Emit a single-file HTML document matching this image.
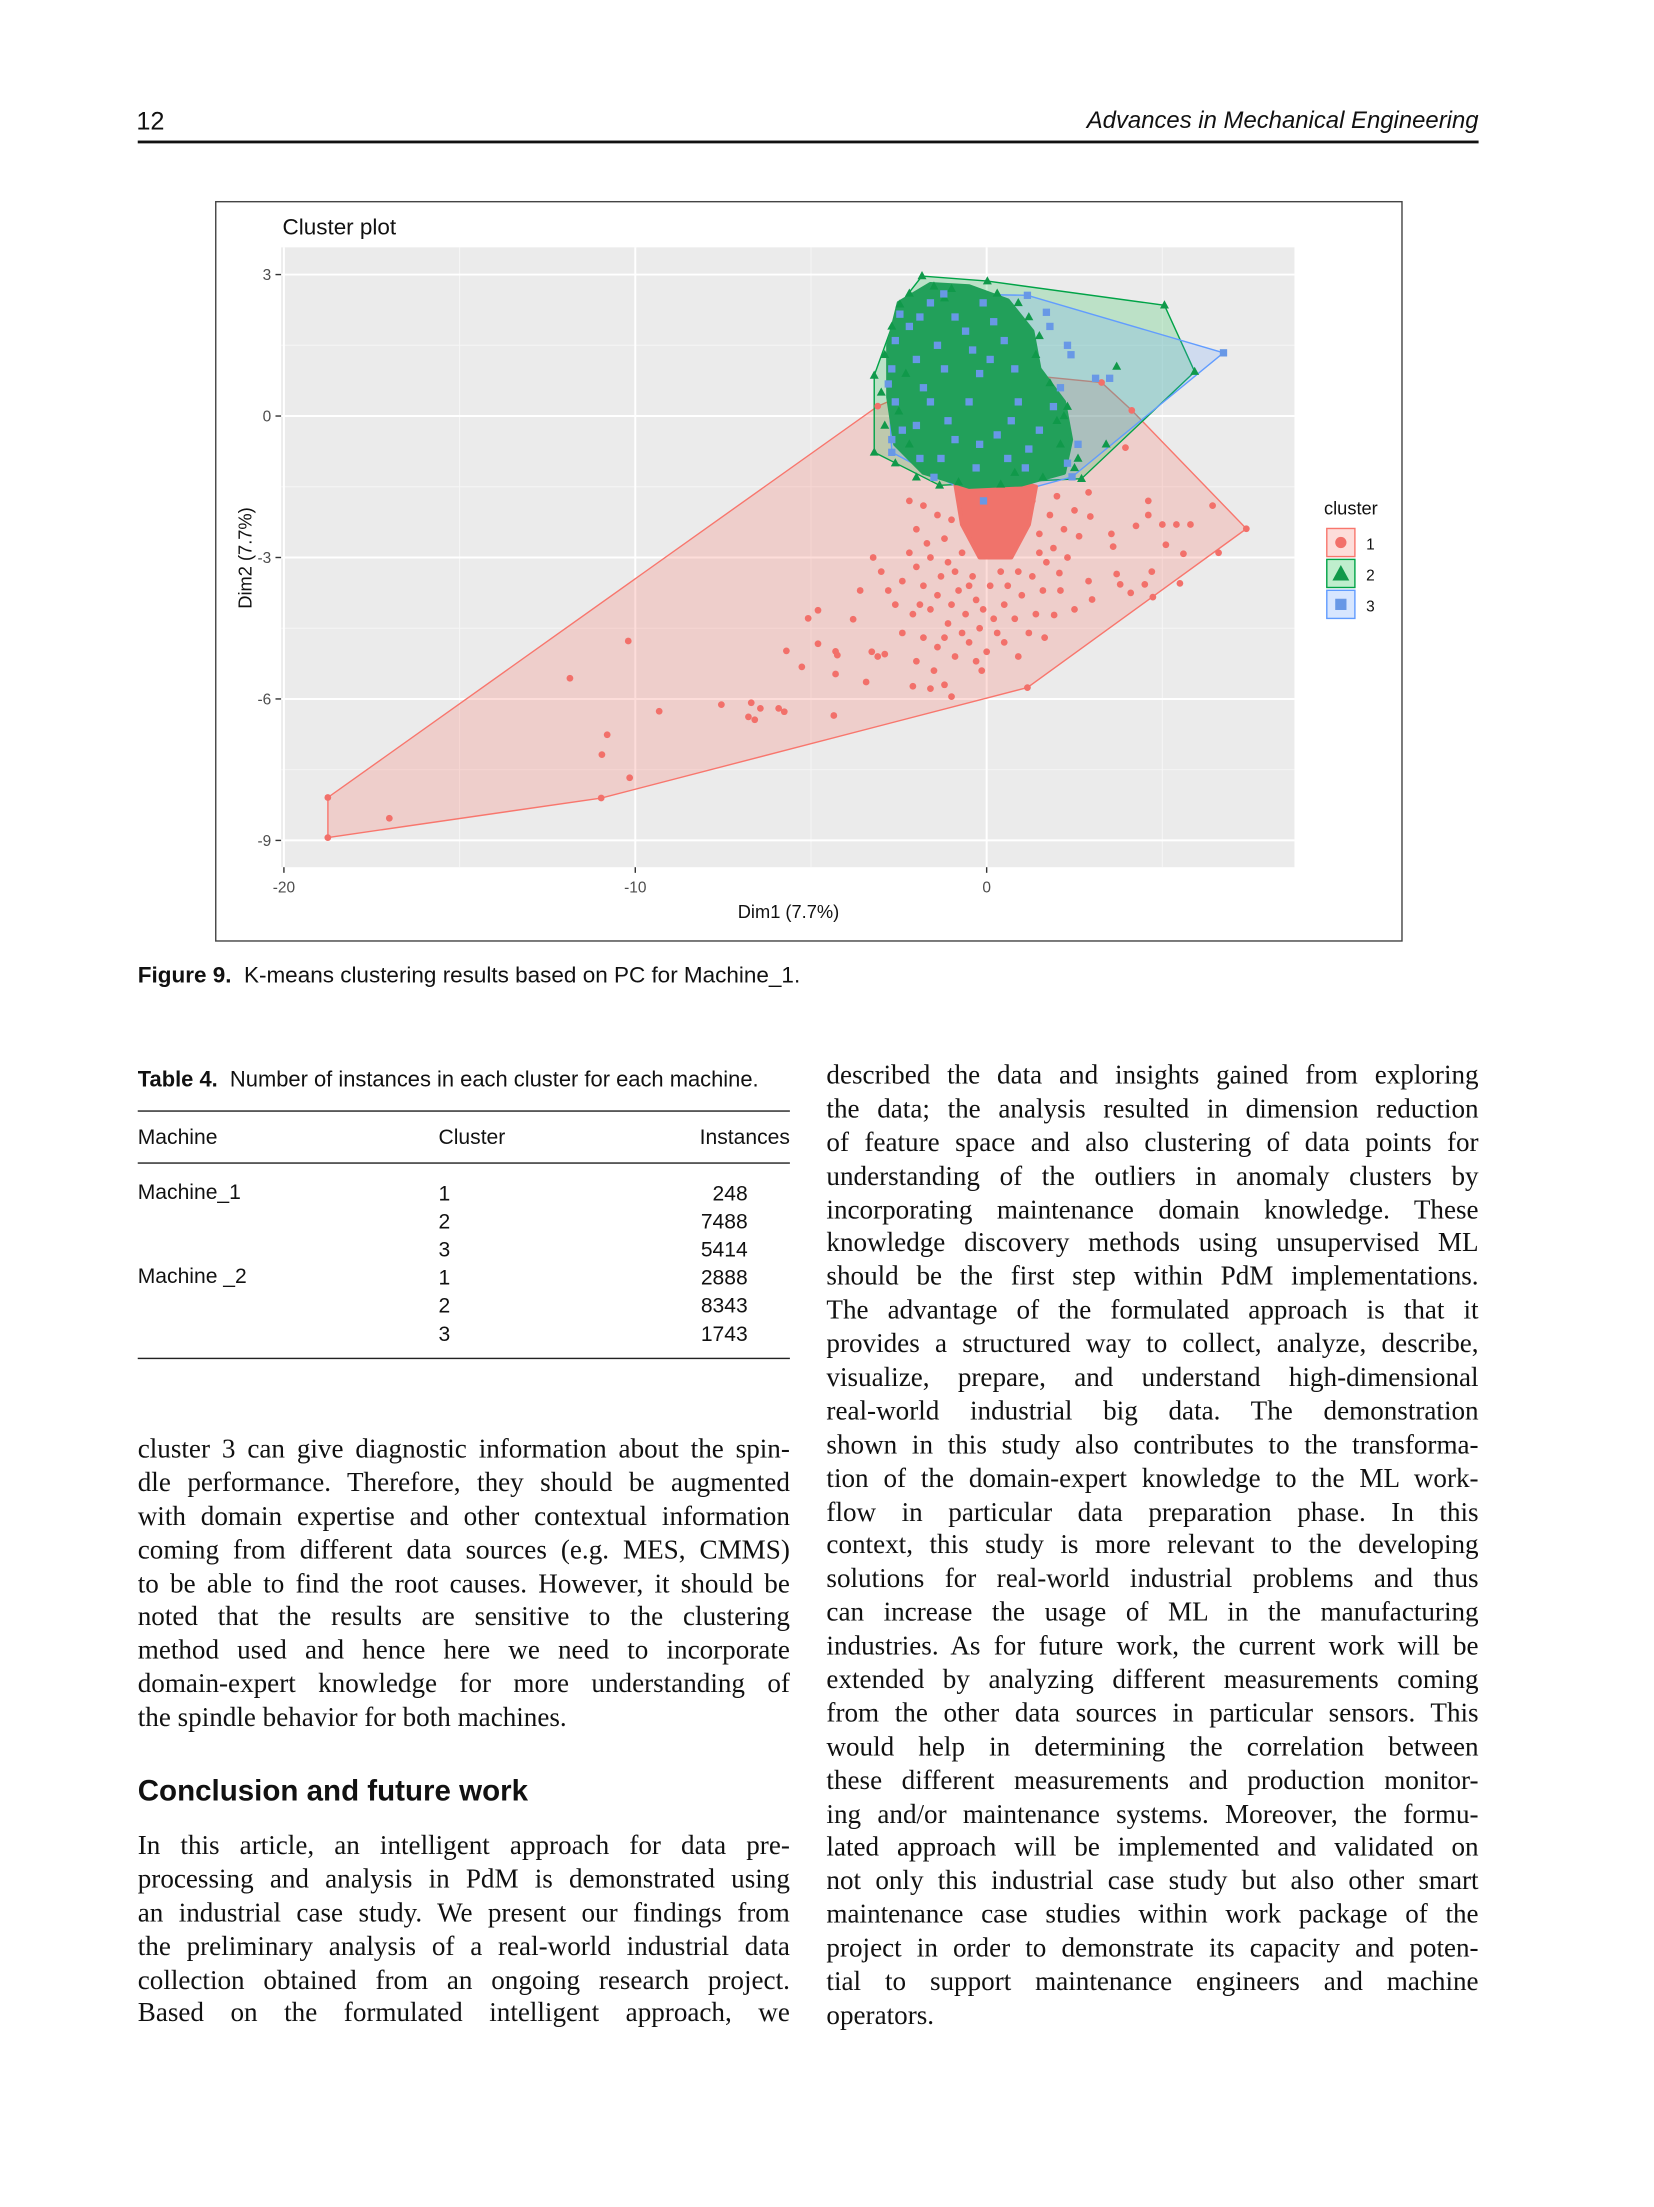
<!DOCTYPE html>
<html><head><meta charset="utf-8">
<style>
html,body{margin:0;padding:0;background:#fff;}
body{width:1654px;height:2205px;overflow:hidden;position:relative;}
#page{position:absolute;left:0;top:0;width:1177px;height:1570px;transform:scale(1.4055);transform-origin:0 0;color:#111;}
.sans{font-family:"Liberation Sans",sans-serif;}
.serif{font-family:"Liberation Serif",serif;}
.abs{position:absolute;}
.col{position:absolute;width:464px;font-family:"Liberation Serif",serif;font-size:19.3px;line-height:23.9px;}
.col div{height:23.9px;overflow:hidden;text-align:justify;text-align-last:justify;white-space:normal;}
.col div.last{text-align-last:left;}
.tb{font-family:"Liberation Sans",sans-serif;font-size:15px;position:absolute;}
</style></head><body>
<div id="page">
<div class="abs sans" style="left:97px;top:76px;font-size:18px;">12</div>
<div class="abs sans" style="left:700px;width:352px;text-align:right;top:76px;font-size:17px;font-style:italic;">Advances in Mechanical Engineering</div>
<div class="abs" style="left:98px;top:100px;width:954px;height:2px;background:#111;"></div>

<div class="abs" style="left:153px;top:143px;width:843px;height:525px;border:1px solid #444;"></div>
<svg class="abs" style="left:0;top:0" width="1160" height="680" viewBox="0 0 1160 680">
<g id="chart"></g>
</svg>

<div class="abs sans" style="left:98px;top:686px;font-size:16px;"><b>Figure 9.</b>&nbsp; K-means clustering results based on PC for Machine_1.</div>

<div class="tb" style="left:98px;top:760px;font-size:15.6px;white-space:nowrap;"><b>Table 4.</b>&nbsp; Number of instances in each cluster for each machine.</div>
<div class="abs" style="left:98px;top:790px;width:464px;height:1px;background:#222;"></div>
<div class="tb" style="left:98px;top:801px;">Machine</div>
<div class="tb" style="left:312px;top:801px;">Cluster</div>
<div class="tb" style="left:462px;width:100px;text-align:right;top:801px;">Instances</div>
<div class="abs" style="left:98px;top:827px;width:464px;height:1px;background:#222;"></div>
<div class="tb" style="left:98px;top:840px;">Machine_1</div>
<div class="tb" style="left:98px;top:900px;">Machine _2</div>
<div class="tb" style="left:312px;top:840px;line-height:20px;">1<br>2<br>3<br>1<br>2<br>3</div>
<div class="tb" style="left:452px;width:80px;top:840px;line-height:20px;text-align:right;">248<br>7488<br>5414<br>2888<br>8343<br>1743</div>
<div class="abs" style="left:98px;top:966px;width:464px;height:1px;background:#222;"></div>

<div class="col" style="left:98px;top:1020px;">
<div>cluster 3 can give diagnostic information about the spin-</div>
<div>dle performance. Therefore, they should be augmented</div>
<div>with domain expertise and other contextual information</div>
<div>coming from different data sources (e.g. MES, CMMS)</div>
<div>to be able to find the root causes. However, it should be</div>
<div>noted that the results are sensitive to the clustering</div>
<div>method used and hence here we need to incorporate</div>
<div>domain-expert knowledge for more understanding of</div>
<div class="last">the spindle behavior for both machines.</div>
</div>
<div class="abs sans" style="left:98px;top:1263px;font-size:21px;font-weight:bold;">Conclusion and future work</div>
<div class="col" style="left:98px;top:1302px;">
<div>In this article, an intelligent approach for data pre-</div>
<div>processing and analysis in PdM is demonstrated using</div>
<div>an industrial case study. We present our findings from</div>
<div>the preliminary analysis of a real-world industrial data</div>
<div>collection obtained from an ongoing research project.</div>
<div>Based on the formulated intelligent approach, we</div>
</div>
<div class="col" style="left:588px;top:754px;">
<div>described the data and insights gained from exploring</div>
<div>the data; the analysis resulted in dimension reduction</div>
<div>of feature space and also clustering of data points for</div>
<div>understanding of the outliers in anomaly clusters by</div>
<div>incorporating maintenance domain knowledge. These</div>
<div>knowledge discovery methods using unsupervised ML</div>
<div>should be the first step within PdM implementations.</div>
<div>The advantage of the formulated approach is that it</div>
<div>provides a structured way to collect, analyze, describe,</div>
<div>visualize, prepare, and understand high-dimensional</div>
<div>real-world industrial big data. The demonstration</div>
<div>shown in this study also contributes to the transforma-</div>
<div>tion of the domain-expert knowledge to the ML work-</div>
<div>flow in particular data preparation phase. In this</div>
<div>context, this study is more relevant to the developing</div>
<div>solutions for real-world industrial problems and thus</div>
<div>can increase the usage of ML in the manufacturing</div>
<div>industries. As for future work, the current work will be</div>
<div>extended by analyzing different measurements coming</div>
<div>from the other data sources in particular sensors. This</div>
<div>would help in determining the correlation between</div>
<div>these different measurements and production monitor-</div>
<div>ing and/or maintenance systems. Moreover, the formu-</div>
<div>lated approach will be implemented and validated on</div>
<div>not only this industrial case study but also other smart</div>
<div>maintenance case studies within work package of the</div>
<div>project in order to demonstrate its capacity and poten-</div>
<div>tial to support maintenance engineers and machine</div>
<div class="last">operators.</div>
</div>
</div>
<script>
const xTicks=[-20,-10,0];
const yTicks=[3,0,-3,-6,-9];
const xMinor=[-15,-5,5];
const yMinor=[1.5,-1.5,-4.5,-7.5];
const hull1=[[-18.75,-8.09],[-18.75,-8.94],[-10.97,-8.1],[1.16,-5.76],[7.39,-2.39],[4.13,0.12],[3.27,0.71],[-0.66,1.0],[-3.1,0.21]];
const hull2=[[-1.84,2.97],[0.02,2.86],[5.06,2.35],[5.92,0.94],[2.7,-1.33],[-1.34,-1.47],[-3.2,-0.77],[-3.2,0.86],[-2.47,2.37]];
const hull3=[[-1.22,2.59],[1.16,2.56],[6.74,1.34],[2.43,-1.29],[-0.09,-1.8],[-2.7,-0.77],[-2.8,0.68],[-2.47,2.16]];
const coreGreen=[[-2.5,2.4],[-1.6,2.8],[-0.5,2.75],[0.6,2.45],[1.3,1.8],[1.5,1.0],[2.2,0.3],[2.4,-0.5],[2.2,-1.2],[1.0,-1.45],[-0.5,-1.5],[-1.8,-1.2],[-2.6,-0.6],[-2.8,0.4],[-2.8,1.5]];
const coreRed=[[-0.9,-1.4],[0.3,-1.3],[1.4,-1.5],[1.2,-2.3],[0.7,-3.0],[-0.2,-3.0],[-0.7,-2.3]];
const red=[[-18.75,-8.09],[-18.75,-8.94],[-10.97,-8.1],[1.16,-5.76],[7.39,-2.39],[4.13,0.12],[3.27,0.71],[-3.1,0.21],
[-17.0,-8.53],[-10.2,-4.77],[-11.86,-5.56],[-10.8,-6.76],[-10.95,-7.18],[-10.16,-7.67],[-9.32,-6.26],[-7.55,-6.12],[-6.7,-6.08],[-6.44,-6.2],[-6.78,-6.38],[-6.6,-6.44],[-5.92,-6.2],[-5.76,-6.27],[-4.35,-6.35],[-5.7,-4.98],[-5.26,-5.32],[-5.08,-4.29],[-4.8,-4.12],[-4.8,-4.83],[-4.3,-4.99],[-4.25,-5.07],[-4.3,-5.47],[-3.8,-4.31],[-3.43,-5.64],[-3.27,-5.0],[-3.23,-3.0],[-3.6,-3.7],[-3.1,-5.1],[-2.9,-5.05],[-2.1,-5.73],[-1.6,-5.78],[-1.0,-5.95],[-1.2,-5.7],[-0.14,-5.4],
[6.43,-1.9],[6.6,-2.9],[5.5,-3.55],[4.73,-3.84],[4.6,-1.8],[4.6,-2.1],[4.25,-2.33],[5.0,-2.3],[5.4,-2.3],[5.8,-2.3],[5.1,-2.73],[5.6,-2.92],[2.9,-1.62],[2.95,-2.13],[3.55,-2.5],[3.6,-2.77],[2.63,-2.55],[2.07,-3.33],[2.9,-3.5],[3.7,-3.35],[3.8,-3.57],[4.1,-3.75],[4.5,-3.57],[4.7,-3.3],[3.0,-3.89],[2.5,-4.1],[1.92,-4.22],[1.65,-4.7],[3.95,-0.67],
[-2.2,-1.8],[-1.8,-1.9],[-1.4,-2.1],[-2.0,-2.4],[-1.2,-2.6],[-2.2,-2.9],[-2.0,-3.2],[-1.6,-3.0],[-1.3,-3.4],[-1.8,-3.6],[-2.4,-3.5],[-2.6,-4.0],[-2.1,-4.2],[-1.6,-4.1],[-1.1,-4.4],[-1.8,-4.7],[-2.4,-4.6],[-1.4,-4.9],[-0.9,-5.1],[-2.0,-5.2],[-0.5,-4.8],[-0.6,-4.2],[-0.3,-3.9],[0.2,-4.3],[0.5,-4.8],[0.8,-4.3],[1.0,-3.8],[0.6,-3.6],[1.3,-3.4],[1.6,-3.7],[1.4,-4.2],[-0.8,-3.7],[-0.4,-3.4],[0.1,-3.6],[1.9,-2.8],[2.2,-2.4],[1.8,-2.1],[2.0,-1.7],[1.7,-3.1],[-1.1,-3.1],[-0.7,-2.9],[0.2,-2.9],[-0.2,-2.3],[0.5,-2.0],[1.1,-2.2],[1.3,-1.8],[-0.4,-1.8],[0.8,-1.6],[-1.0,-2.2],[-3.0,-3.3],[-2.8,-3.7],[-1.5,-5.4],[0.0,-5.0],[-0.2,-4.5],[0.9,-5.1],[2.3,-3.0],[2.5,-2.0],[1.5,-2.5],
[-0.9,-3.3],[-0.5,-3.6],[0.4,-3.3],[0.9,-3.3],[-1.4,-3.8],[-1.0,-4.0],[-0.1,-4.1],[0.5,-4.0],[1.2,-4.6],[-0.7,-4.6],[-1.9,-4.0],[-1.2,-4.7],[0.3,-4.6],[-0.3,-5.2],[-1.7,-2.7],[1.5,-2.9],[2.1,-3.7]];
const green=[[-1.84,2.97],[0.02,2.86],[5.06,2.35],[5.92,0.94],[2.7,-1.33],[-1.34,-1.47],[-3.2,-0.77],[-3.2,0.86],[-2.47,2.37],
[3.7,1.05],[3.4,-0.6],[2.3,0.2],[2.0,-0.1],[2.6,-0.9],[2.5,-1.1],[1.8,0.7],[1.5,1.7],[1.2,2.1],[0.9,2.4],[-2.2,2.6],[-1.5,2.75],[-1.0,2.7],[-2.7,1.9],[-2.9,1.3],[-3.0,0.5],[-2.9,-0.2],[-2.6,-1.0],[-2.0,-1.3],[-0.8,-1.4],[0.4,-1.45],[1.6,-1.3],[2.1,-0.6],[2.2,0.0],[1.4,1.3],[-2.3,0.9],[-2.5,0.1],[-2.2,-0.6],[0.8,-1.2],[-1.2,2.5],[0.3,2.6]];
const blue=[[-1.22,2.59],[1.16,2.56],[6.74,1.34],[2.43,-1.29],[-0.09,-1.8],[-2.7,-0.77],[-2.8,0.68],[-2.47,2.16],
[1.7,2.2],[1.8,1.9],[2.3,1.5],[2.4,1.3],[2.1,0.6],[1.9,0.2],[3.5,0.8],[3.1,0.8],[2.6,-0.6],[2.3,-1.0],[-2.6,1.6],[-2.7,1.0],[-2.6,0.3],[-2.4,-0.3],[-2.7,-0.5],[-1.9,-0.9],[-1.6,0.3],[-1.2,1.0],[-0.6,1.8],[-0.2,0.9],[0.5,1.6],[0.9,0.3],[-0.9,-0.5],[0.3,-0.4],[1.2,-0.7],[-0.3,-1.1],[-1.5,-1.3],[-0.5,0.3],[-1.9,2.1],[-0.1,2.4],[0.7,-0.1],[1.5,-0.3],[-2.0,1.2],[0.1,1.2],
[-2.2,1.9],[-1.4,1.5],[-0.9,2.1],[0.2,2.0],[-1.8,0.6],[-1.1,-0.1],[-0.2,-0.6],[0.6,-0.9],[-2.0,-0.2],[-1.3,-0.9],[0.8,1.0],[1.1,-1.1],[-0.4,1.4],[-1.6,2.4]];
const NS='http://www.w3.org/2000/svg';
const g=document.getElementById('chart');
const X0=200,X1=921,Y0=176,Y1=617;
function sx(v){return 202+(v+20)*25;}
function sy(v){return 296-v*33.55;}
function el(tag,attrs){const e=document.createElementNS(NS,tag);for(const k in attrs)e.setAttribute(k,attrs[k]);g.appendChild(e);return e;}
function pts(arr){return arr.map(p=>sx(p[0]).toFixed(1)+','+sy(p[1]).toFixed(1)).join(' ');}
let e=el('rect',{x:X0,y:Y0,width:X1-X0,height:Y1-Y0,fill:'#ebebeb'});


xMinor.forEach(v=>{const l=el('line',{x1:sx(v),x2:sx(v),y1:Y0,y2:Y1,stroke:'#f6f6f6','stroke-width':0.7});

});
yMinor.forEach(v=>{const l=el('line',{x1:X0,x2:X1,y1:sy(v),y2:sy(v),stroke:'#f6f6f6','stroke-width':0.7});

});
xTicks.forEach(v=>{const l=el('line',{x1:sx(v),x2:sx(v),y1:Y0,y2:Y1,stroke:'#fff','stroke-width':1.4});


const t=el('line',{x1:sx(v),x2:sx(v),y1:Y1,y2:Y1+4,stroke:'#333','stroke-width':1});


const tx=el('text',{x:sx(v),y:Y1+18,'text-anchor':'middle','font-size':11,fill:'#4d4d4d','font-family':'Liberation Sans, sans-serif'});tx.textContent=String(v);

});
yTicks.forEach(v=>{const l=el('line',{x1:X0,x2:X1,y1:sy(v),y2:sy(v),stroke:'#fff','stroke-width':1.4});


const t=el('line',{x1:X0-4,x2:X0,y1:sy(v),y2:sy(v),stroke:'#333','stroke-width':1});


const tx=el('text',{x:X0-7,y:sy(v)+4,'text-anchor':'end','font-size':11,fill:'#4d4d4d','font-family':'Liberation Sans, sans-serif'});tx.textContent=String(v);

});
[[hull1,'#f8766d','rgba(248,118,109,0.25)','hull-cluster-1'],[hull2,'#00a347','rgba(0,186,56,0.2)','hull-cluster-2'],[hull3,'#619cff','rgba(97,156,255,0.2)','hull-cluster-3']].forEach(h=>{
const p=el('polygon',{points:pts(h[0]),fill:h[2],stroke:h[1],'stroke-width':1});

});
function circ(p,c,r){const m=el('circle',{cx:sx(p[0]),cy:sy(p[1]),r:r,fill:c});

}
function tri(p,c){const x=sx(p[0]),y=sy(p[1]);const m=el('polygon',{points:`${x},${y-3.5} ${x-3.2},${y+2.3} ${x+3.2},${y+2.3}`,fill:c});

}
function sq(p,c){const m=el('rect',{x:sx(p[0])-2.6,y:sy(p[1])-2.6,width:5.2,height:5.2,fill:c});

}
red.forEach(p=>circ(p,'#f2706a',2.4));
let cr=el('polygon',{points:pts(coreRed),fill:'#f0736b',stroke:'#f0736b','stroke-width':3,'stroke-linejoin':'round'});


let cg=el('polygon',{points:pts(coreGreen),fill:'#22a05a',stroke:'#22a05a','stroke-width':3,'stroke-linejoin':'round'});


green.forEach(p=>tri(p,'#10994a'));
blue.forEach(p=>sq(p,'#6898e6'));
function txt(x,y,s,size,name,extra){const t=el('text',Object.assign({x:x,y:y,'font-size':size,fill:'#111','font-family':'Liberation Sans, sans-serif'},extra||{}));t.textContent=s;

return t;}
txt(201,167,'Cluster plot',16,'chart-title');
txt(561,653,'Dim1 (7.7%)',13,'x-axis-title',{'text-anchor':'middle'});
txt(179,397,'Dim2 (7.7%)',13,'y-axis-title',{'text-anchor':'middle',transform:'rotate(-90 179 397)'});
txt(942,366,'cluster',13,'legend-title');
const legCols=[['#f8766d','rgba(248,118,109,0.25)','1'],['#00a347','rgba(0,186,56,0.25)','2'],['#619cff','rgba(97,156,255,0.25)','3']];
legCols.forEach((c,i)=>{const y=376+i*22;
const r=el('rect',{x:944,y:y,width:20,height:20,fill:c[1],stroke:c[0],'stroke-width':1});


if(i===0){const m=el('circle',{cx:954,cy:y+10,r:4,fill:'#f2706a'});

}else if(i===1){const x=954,yy=y+10;const m=el('polygon',{points:`${x},${yy-6} ${x-6},${yy+5} ${x+6},${yy+5}`,fill:'#10994a'});

}else{const m=el('rect',{x:950,y:y+6,width:8,height:8,fill:'#6898e6'});

}
txt(972,y+15,c[2],11,'legend-label-'+c[2]);});
</script>
</body></html>
